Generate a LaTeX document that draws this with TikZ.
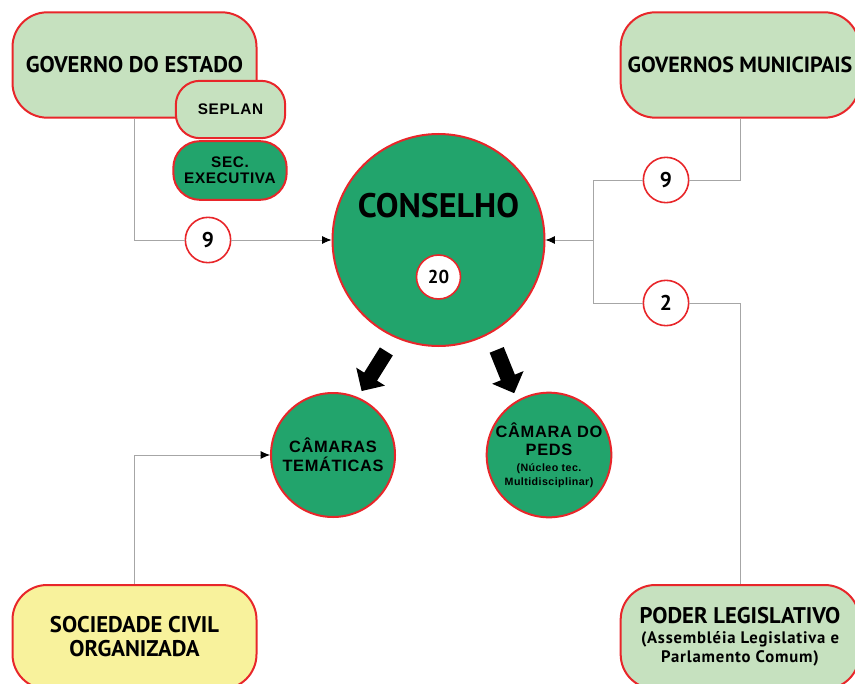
\documentclass[tikz,border=0pt]{standalone}
\usepackage{fontspec}
\setmainfont{PT Sans}
\newfontfamily\arialfont[LetterSpace=4]{Liberation Sans}
\newfontfamily\widefont[LetterSpace=5]{PT Sans}
\usetikzlibrary{shapes.arrows,arrows.meta}
\definecolor{lgreen}{HTML}{C6E1BF}
\definecolor{dgreen}{HTML}{22A46C}
\definecolor{lyellow}{HTML}{F8F29C}
\definecolor{bred}{HTML}{E8262A}
\definecolor{lgray}{HTML}{A6A6A6}
\begin{document}
\begin{tikzpicture}[x=0.75pt,y=-0.75pt,
  bigbox/.style={draw=bred, line width=1.5pt, rounded corners=26pt, minimum width=183pt, minimum height=79pt, align=center, font=\bfseries\fontsize{17}{18}\selectfont},
  smallbox/.style={draw=bred, line width=1.5pt, rounded corners=18pt, align=center, font=\arialfont\bfseries\fontsize{11.5}{12}\selectfont},
  num/.style={circle, draw=bred, line width=1.2pt, fill=white, minimum size=34pt, inner sep=0pt, font=\bfseries\fontsize{16}{17}\selectfont},
  camara/.style={circle, draw=bred, line width=1.5pt, fill=dgreen, minimum size=93pt, inner sep=0pt, align=center, font=\arialfont\bfseries\fontsize{12.3}{14}\selectfont},
  conn/.style={draw=lgray, line width=0.7pt},
  tip/.style={-{Latex[length=7pt,width=6pt,black]}},
  fat/.style={single arrow, fill=black, minimum height=35pt, inner sep=5.5pt, single arrow head extend=7pt}]
\useasboundingbox (0,0) rectangle (855,684);
% boxes
\node[bigbox, fill=lgreen] (govst) at (134.5,65){GOVERNO DO ESTADO};
\node[smallbox, fill=lgreen, minimum width=82pt, minimum height=43pt] (seplan) at (230.5,109.5){SEPLAN};
\node[smallbox, fill=dgreen, minimum width=85pt, minimum height=44pt, rounded corners=20pt] (secex) at (230,170.5){SEC.\\EXECUTIVA};
\node[bigbox, fill=lgreen, minimum width=179pt, font=\bfseries\fontsize{16.5}{18}\selectfont] (govmun) at (740,65){GOVERNOS MUNICIPAIS};
\node[bigbox, fill=lyellow, minimum height=78pt] (socciv) at (134.5,637){SOCIEDADE CIVIL\\ORGANIZADA};
\node[bigbox, fill=lgreen, minimum width=179pt, minimum height=78pt] (poder) at (740,637){PODER LEGISLATIVO\\[-3pt]{\widefont\fontsize{12.5}{13}\selectfont(Assembléia Legislativa e}\\[-4pt]{\widefont\fontsize{12.5}{13}\selectfont Parlamento Comum)}};
% conselho
\node[circle, draw=bred, line width=1.5pt, fill=dgreen, minimum size=159pt] (cons) at (438.5,240){};
\node[font=\bfseries\fontsize{25.5}{26}\selectfont] (conslbl) at (438.5,206){CONSELHO};
\node[num, minimum size=33pt, font=\bfseries\fontsize{14}{15}\selectfont] (n20) at (438.5,277){20};
% camaras
\node[camara] (camtem) at (333,455){CÂMARAS\\TEMÁTICAS};
\node[camara] (peds) at (549,455){CÂMARA DO\\PEDS\\[-2pt]{\fontsize{8}{9}\selectfont(Núcleo tec.}\\[-4pt]{\fontsize{8}{9}\selectfont Multidisciplinar)}};
% numbers
\node[num] (n9a) at (208,240){9};
\node[num] (n9b) at (666,180){9};
\node[num] (n2) at (666,303){2};
\coordinate (jr) at (593,240);
% connectors
\draw[conn] (govst.south) |- (n9a);
\draw[conn, tip] (n9a) -- (cons.west);
\draw[conn] (govmun.south) |- (n9b);
\draw[conn] (n9b) -| (jr);
\draw[conn] (n2) -| (jr);
\draw[conn, tip] (jr) -- (cons.east);
\draw[conn] (n2) -| (poder.north);
\draw[conn, tip] (socciv.north) |- (camtem.west);
% fat arrows
\node[fat, rotate=238] (arrl) at (376,368){};
\node[fat, rotate=292] (arrr) at (504,368){};
\end{tikzpicture}
\end{document}
